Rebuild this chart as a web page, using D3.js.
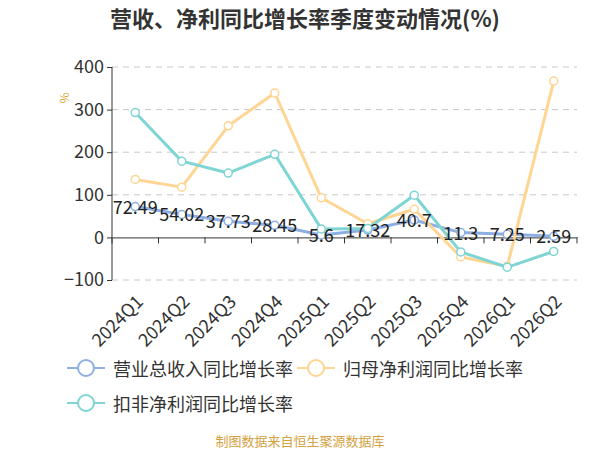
<!DOCTYPE html>
<html>
<head>
  <meta charset="utf-8">
  <title>营收、净利同比增长率季度变动情况</title>
  <script src="https://d3js.org/d3.v7.min.js"></script>
  <style>
    body { margin: 0; background: #fff; }
    text { font-family: "Noto Sans CJK SC", "Noto Sans", sans-serif; }
  </style>
</head>
<body>
  <div id="chart"></div>
  <script>
    // Daten
    var quarters = ['2024Q1', '2024Q2', '2024Q3', '2024Q4', '2025Q1', '2025Q2', '2025Q3', '2025Q4', '2026Q1', '2026Q2'];
    var revenueGrowth = [72.49, 54.02, 37.73, 28.45, 5.6, 17.32, 40.7, 11.3, 7.25, 2.59];
    var netProfitGrowth = [136, 118, 262, 339, 93, 32, 66, -46, -68, 367];
    var deductedGrowth = [293, 179, 151, 195, 20, 21, 99, -34, -70, -33];
    var yTicks = [-100, 0, 100, 200, 300, 400];

    var seriesList = [
      { name: '营业总收入同比增长率', values: revenueGrowth, color: '#8eafe3', labels: true },
      { name: '归母净利润同比增长率', values: netProfitGrowth, color: '#fed593', labels: false },
      { name: '扣非净利润同比增长率', values: deductedGrowth, color: '#7fd4d4', labels: false }
    ];

    var width = 600, height = 450;
    var margin = { top: 67, right: 23, bottom: 170, left: 112 };
    var innerW = width - margin.left - margin.right;
    var innerH = height - margin.top - margin.bottom;

    var svg = d3.select('#chart').append('svg')
      .attr('width', width)
      .attr('height', height);

    // Titel
    svg.append('text')
      .attr('x', 305)
      .attr('y', 27)
      .attr('text-anchor', 'middle')
      .attr('font-size', 22)
      .attr('font-weight', 'bold')
      .attr('fill', '#333')
      .text('营收、净利同比增长率季度变动情况(%)');

    var g = svg.append('g')
      .attr('transform', 'translate(' + margin.left + ',' + margin.top + ')');

    var x = d3.scaleBand().domain(quarters).range([0, innerW]);
    var y = d3.scaleLinear().domain([-100, 400]).range([innerH, 0]);

    // Gitterlinien
    g.append('g')
      .selectAll('line')
      .data(yTicks.filter(function (d) { return d !== 0; }))
      .join('line')
        .attr('x1', 0)
        .attr('x2', innerW)
        .attr('y1', function (d) { return y(d); })
        .attr('y2', function (d) { return y(d); })
        .attr('stroke', '#c8c8c8')
        .attr('stroke-dasharray', '6,5');

    // y-Achse
    var yAxis = g.append('g')
      .call(d3.axisLeft(y).tickValues(yTicks).tickSize(5).tickPadding(3));
    yAxis.select('.domain').attr('stroke', '#333').attr('d', 'M0,' + innerH + 'V0');
    yAxis.selectAll('.tick line').attr('stroke', '#333');
    yAxis.selectAll('.tick text')
      .attr('font-size', 18)
      .attr('fill', '#333')
      .style('font-family', '"Noto Sans CJK SC", sans-serif');

    // x-Achse auf der Nulllinie
    var xAxis = g.append('g')
      .attr('transform', 'translate(0,' + y(0) + ')')
      .call(d3.axisBottom(x).tickSize(0).tickFormat(''));
    xAxis.select('.domain').attr('stroke', '#333');
    xAxis.selectAll('.tick').remove();
    xAxis.selectAll('.bound')
      .data(d3.range(quarters.length + 1))
      .join('line')
        .attr('x1', function (i) { return i * x.step(); })
        .attr('x2', function (i) { return i * x.step(); })
        .attr('y1', 0)
        .attr('y2', 6)
        .attr('stroke', '#333');

    // Kategorien unten, gedreht
    g.append('g')
      .selectAll('text')
      .data(quarters)
      .join('text')
        .attr('transform', function (d) {
          return 'translate(' + (x(d) + x.bandwidth() / 2 + 9) + ',' + (innerH + 23) + ') rotate(-45)';
        })
        .attr('text-anchor', 'end')
        .attr('font-size', 18)
        .attr('fill', '#333')
        .text(function (d) { return d; });

    // Einheit
    svg.append('text')
      .attr('transform', 'translate(60,98) rotate(90)')
      .attr('text-anchor', 'middle')
      .attr('font-size', 12)
      .attr('fill', '#e0a53c')
      .text('%');

    var line = d3.line()
      .x(function (d, i) { return x(quarters[i]) + x.bandwidth() / 2; })
      .y(function (d) { return y(d); });

    seriesList.forEach(function (s) {
      g.append('path')
        .datum(s.values)
        .attr('fill', 'none')
        .attr('stroke', s.color)
        .attr('stroke-width', 3)
        .attr('stroke-linejoin', 'round')
        .attr('d', line);
      g.append('g')
        .selectAll('circle')
        .data(s.values)
        .join('circle')
          .attr('cx', function (d, i) { return x(quarters[i]) + x.bandwidth() / 2; })
          .attr('cy', function (d) { return y(d); })
          .attr('r', 4)
          .attr('fill', '#fff')
          .attr('stroke', s.color)
          .attr('stroke-width', 1.5);
    });

    // Datenbeschriftungen
    seriesList.filter(function (s) { return s.labels; }).forEach(function (s) {
      g.append('g')
        .selectAll('text')
        .data(s.values)
        .join('text')
          .attr('x', function (d, i) { return x(quarters[i]) + x.bandwidth() / 2; })
          .attr('y', function (d) { return y(d) - 1; })
          .attr('text-anchor', 'middle')
          .attr('dominant-baseline', 'central')
          .attr('font-size', 18)
          .attr('fill', '#222')
          .text(function (d) { return d; });
    });

    // Legende
    var legendPos = [[67, 368], [297, 368], [67, 403]];
    seriesList.forEach(function (s, i) {
      var lg = svg.append('g')
        .attr('transform', 'translate(' + legendPos[i][0] + ',' + legendPos[i][1] + ')');
      lg.append('line')
        .attr('x1', 0).attr('x2', 38)
        .attr('y1', 0).attr('y2', 0)
        .attr('stroke', s.color)
        .attr('stroke-width', 2);
      lg.append('circle')
        .attr('cx', 19).attr('cy', 0).attr('r', 8)
        .attr('fill', '#fff')
        .attr('stroke', s.color)
        .attr('stroke-width', 2);
      lg.append('text')
        .attr('x', 46)
        .attr('y', 0)
        .attr('dominant-baseline', 'central')
        .attr('font-size', 18)
        .attr('fill', '#333')
        .text(s.name);
    });

    // Quelle
    svg.append('text')
      .attr('x', width / 2)
      .attr('y', 446)
      .attr('text-anchor', 'middle')
      .attr('font-size', 13)
      .attr('fill', '#d4a23f')
      .text('制图数据来自恒生聚源数据库');
  </script>
</body>
</html>
